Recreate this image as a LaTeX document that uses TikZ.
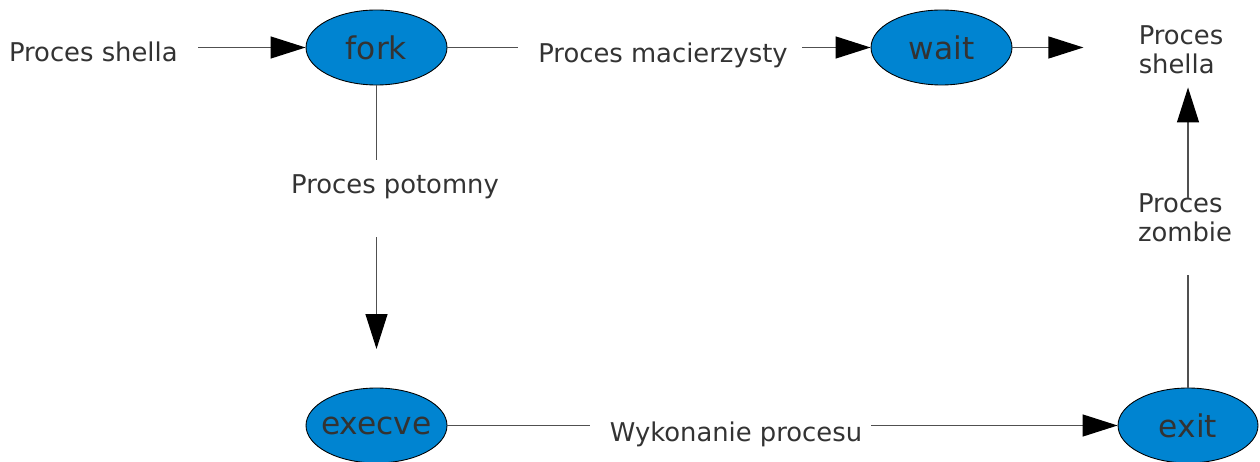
\documentclass[tikz,border=0pt]{standalone}
\usepackage{fontspec}
\setmainfont{DejaVu Sans}
\usetikzlibrary{shapes.geometric,arrows.meta}
\definecolor{procblue}{RGB}{0,132,209}
\definecolor{txtgray}{RGB}{51,51,51}
\definecolor{linegray}{RGB}{80,80,80}

\begin{document}
\begin{tikzpicture}[x=0.02cm, y=-0.02cm,
    proc/.style={ellipse, draw=black, line width=0.5pt, fill=procblue,
      minimum width=2.82cm, minimum height=1.5cm, inner ysep=0pt, inner xsep=-0.3cm,
      text=txtgray, font=\fontsize{17.8pt}{20pt}\selectfont},
    lbl/.style={inner xsep=0.4cm, inner ysep=0.3cm, text=txtgray,
      font=\fontsize{14.7pt}{16.5pt}\selectfont},
    conn/.style={draw=linegray, line width=0.7pt},
    arr/.style={conn, -{Triangle[length=0.7cm, width=0.44cm, color=black]}}]
    \useasboundingbox (0,0) rectangle (1260,462);
    % processes
    \node[proc] (fork) at (376.5,47.5) {fork};
    \node[proc] (wait) at (941.5,47.5) {wait};
    \node[proc] (execve) at (376.5,425.5) {execve};
    \node[proc, minimum width=2.8cm] (exit) at (1188,425.5) {exit};
    % labels
    \node[lbl, anchor=base east] (shellin) at (198,62) {Proces shella};
    \node[lbl, anchor=base] (mac) at (663,63) {Proces macierzysty};
    \node[lbl, align=left] (shellout) at (1181,50) {Proces\\shella};
    \node[lbl, anchor=base] (pot) at (395,194) {Proces potomny};
    \node[lbl, align=left] (zombie) at (1185,218) {Proces\\zombie};
    \node[lbl, anchor=base] (wyk) at (736,441) {Wykonanie procesu};
    \coordinate (potend) at (376.5,349);
    % top row
    \draw[arr] (shellin.east |- fork) -- (fork);
    \draw[conn] (fork) -- (mac.west |- fork);
    \draw[arr, shorten <=-0.12cm] (mac.east |- wait) -- (wait);
    \draw[arr, shorten >=0.7cm] (wait) -- (shellout.west |- wait);
    % child branch
    \draw[conn] (fork) -- (pot.north -| fork);
    \draw[arr, shorten <=0.45cm] (pot.south -| fork) -- (potend);
    \draw[conn] (execve) -- (wyk.west |- execve);
    \draw[arr, shorten <=-0.22cm] (wyk.east |- execve) -- (exit);
    % back to shell
    \draw[conn, shorten >=0.36cm] (exit) -- (zombie.south -| exit);
    \draw[arr, shorten <=-0.38cm, shorten >=-0.04cm] (zombie.north -| exit) -- (shellout.south -| exit);
\end{tikzpicture}
\end{document}
